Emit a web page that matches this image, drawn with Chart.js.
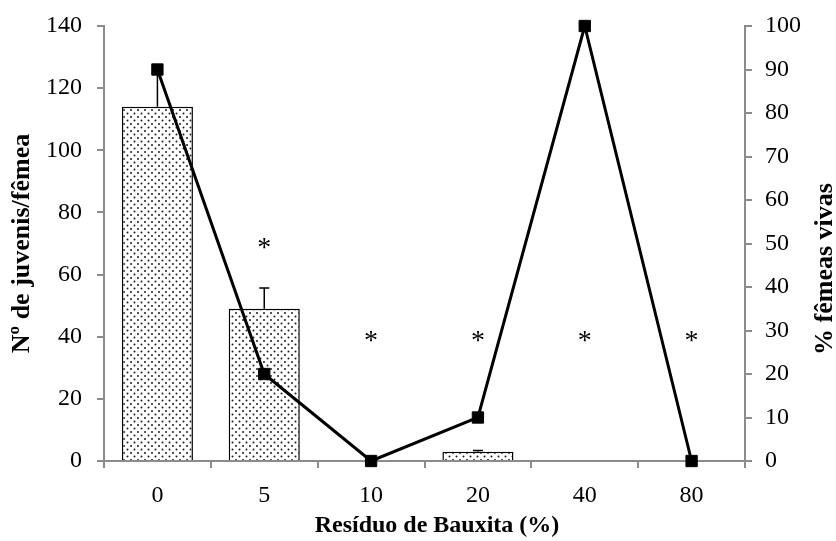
<!DOCTYPE html>
<html>
<head>
<meta charset="utf-8">
<script src="https://cdn.jsdelivr.net/npm/chart.js@4.4.0/dist/chart.umd.min.js"></script>
<style>
  html, body { margin: 0; background: #fff; }
  #wrap { width: 836px; height: 541px; }
</style>
</head>
<body>
<div id="wrap"><canvas id="chart"></canvas></div>
<script>
// values
const categories = ['0', '5', '10', '20', '40', '80'];
const juveniles = [114, 49, 0, 3, 0, 0];          // Nº de juvenis/fêmea (bars)
const juvenilesErr = [12, 6.7, 0, 0.4, 0, 0];     // upper error only
const femalesAlive = [90, 20, 0, 10, 100, 0];     // % fêmeas vivas (line)
const asteriskAt = [null, 70, 40, 40, 40, 40];    // asterisk height, left-axis units

const SERIF = '"Liberation Serif", "DejaVu Serif", serif';
const AXIS_GREY = '#8c8c8c';

function dotPattern() {
    const c = document.createElement('canvas');
    c.width = 7; c.height = 7;
    const g = c.getContext('2d');
    g.fillStyle = '#fff';
    g.fillRect(0, 0, 7, 7);
    g.fillStyle = '#1e1e1e';
    [[1.5, 1.5], [5, 5]].forEach(p => {
        g.beginPath();
        g.arc(p[0], p[1], 1.0, 0, Math.PI * 2);
        g.fill();
    });
    return g.createPattern(c, 'repeat');
}

const errorBars = {
    id: 'errorBars',
    afterDatasetDraw(chart, args) {
        if (args.meta.type !== 'bar') return;
        const ctx = chart.ctx;
        const y = chart.scales.y;
        ctx.save();
        ctx.strokeStyle = '#000';
        ctx.lineWidth = 1.5;
        args.meta.data.forEach((bar, i) => {
            if (!juvenilesErr[i]) return;
            const top = y.getPixelForValue(juveniles[i] + juvenilesErr[i]);
            ctx.beginPath();
            ctx.moveTo(bar.x, bar.y);
            ctx.lineTo(bar.x, top);
            ctx.moveTo(bar.x - 5, top);
            ctx.lineTo(bar.x + 5, top);
            ctx.stroke();
        });
        ctx.restore();
    }
};

const extras = {
    id: 'extras',
    afterDraw(chart) {
        const ctx = chart.ctx;
        const x = chart.scales.x;
        const y = chart.scales.y;
        ctx.save();
        ctx.fillStyle = '#000';
        ctx.font = '28px ' + SERIF;
        ctx.textAlign = 'center';
        ctx.textBaseline = 'alphabetic';
        const m = ctx.measureText('*');
        const shift = (m.actualBoundingBoxAscent - m.actualBoundingBoxDescent) / 2;
        asteriskAt.forEach((v, i) => {
            if (v === null) return;
            ctx.fillText('*', x.getPixelForValue(i), y.getPixelForValue(v) + shift);
        });
        // x axis title
        ctx.textBaseline = 'middle';
        ctx.font = 'bold 24px ' + SERIF;
        ctx.fillText('Resíduo de Bauxita (%)', 437, 526);
        // right axis title, reading bottom to top
        ctx.font = 'bold 26px ' + SERIF;
        ctx.translate(825, 269);
        ctx.rotate(-Math.PI / 2);
        ctx.fillText('% fêmeas vivas', 0, 0);
        ctx.restore();
    }
};

function fixWidth(w) {
    return s => { s.width = w; s.paddingTop = 0; s.paddingBottom = 0; };
}

new Chart(document.getElementById('chart'), {
    data: {
        labels: categories,
        datasets: [
            {
                type: 'line',
                label: '% fêmeas vivas',
                data: femalesAlive,
                yAxisID: 'y1',
                borderColor: '#000',
                borderWidth: 3,
                pointStyle: 'rect',
                pointRadius: 8,
                pointBackgroundColor: '#000',
                pointBorderColor: '#000',
                pointBorderWidth: 1,
                tension: 0,
                clip: false,
                order: 0
            },
            {
                type: 'bar',
                label: 'Nº de juvenis/fêmea',
                data: juveniles,
                yAxisID: 'y',
                backgroundColor: dotPattern(),
                borderColor: '#000',
                borderWidth: 1.5,
                categoryPercentage: 1,
                barPercentage: 0.665,
                order: 1
            }
        ]
    },
    options: {
        responsive: true,
        maintainAspectRatio: false,
        animation: false,
        layout: { padding: { top: 26, left: 0, right: 0, bottom: 0 } },
        plugins: {
            legend: { display: false },
            tooltip: { enabled: false }
        },
        scales: {
            x: {
                offset: true,
                grid: { drawOnChartArea: false, tickLength: 7, color: AXIS_GREY, lineWidth: 2 },
                border: { color: AXIS_GREY, width: 2 },
                ticks: { color: '#000', padding: 13, font: { family: SERIF, size: 24 } },
                afterFit: s => { s.height = 80; }
            },
            y: {
                position: 'left',
                min: 0,
                max: 140,
                grid: { drawOnChartArea: false, tickLength: 7, color: AXIS_GREY, lineWidth: 2 },
                border: { color: AXIS_GREY, width: 2 },
                ticks: { stepSize: 20, color: '#000', padding: 15, font: { family: SERIF, size: 24 } },
                title: {
                    display: true,
                    text: 'Nº de juvenis/fêmea',
                    color: '#000',
                    padding: { top: 7, bottom: 0 },
                    font: { family: SERIF, size: 26, weight: 'bold' }
                },
                afterFit: fixWidth(104)
            },
            y1: {
                position: 'right',
                min: 0,
                max: 100,
                grid: { drawOnChartArea: false, tickLength: 7, color: AXIS_GREY, lineWidth: 2 },
                border: { color: AXIS_GREY, width: 2 },
                ticks: { stepSize: 10, color: '#000', padding: 13, font: { family: SERIF, size: 24 } },
                afterFit: fixWidth(91)
            }
        }
    },
    plugins: [errorBars, extras]
});
</script>
</body>
</html>
